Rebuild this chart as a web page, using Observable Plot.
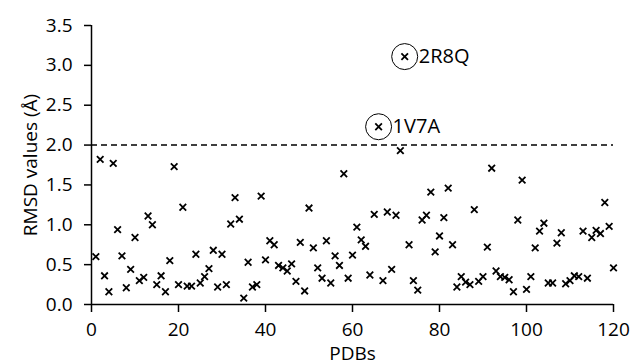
<!DOCTYPE html>
<html><head><meta charset="utf-8">
<script src="https://cdn.jsdelivr.net/npm/d3@7"></script>
<script src="https://cdn.jsdelivr.net/npm/@observablehq/plot@0.6"></script>
<style>body{margin:0;background:#fff} svg{display:block}</style>
</head><body><div id="chart"></div>
<script>
const rmsd = [
  0.60, 1.82, 0.36, 0.16, 1.77, 0.94, 0.61, 0.21, 0.44, 0.84,
  0.30, 0.34, 1.11, 1.00, 0.25, 0.36, 0.16, 0.55, 1.73, 0.25,
  1.22, 0.23, 0.23, 0.63, 0.27, 0.35, 0.45, 0.68, 0.22, 0.63,
  0.25, 1.01, 1.34, 1.07, 0.08, 0.53, 0.22, 0.25, 1.36, 0.56,
  0.80, 0.75, 0.49, 0.46, 0.42, 0.51, 0.29, 0.78, 0.17, 1.21,
  0.71, 0.46, 0.33, 0.80, 0.27, 0.61, 0.49, 1.64, 0.33, 0.62,
  0.97, 0.81, 0.73, 0.37, 1.13, 2.23, 0.30, 1.16, 0.44, 1.12,
  1.93, 3.11, 0.75, 0.30, 0.18, 1.06, 1.12, 1.41, 0.66, 0.86,
  1.09, 1.46, 0.75, 0.22, 0.35, 0.28, 0.25, 1.19, 0.29, 0.35,
  0.72, 1.71, 0.42, 0.35, 0.34, 0.31, 0.16, 1.06, 1.56, 0.19,
  0.35, 0.71, 0.92, 1.02, 0.27, 0.27, 0.77, 0.90, 0.26, 0.30,
  0.36, 0.35, 0.92, 0.33, 0.84, 0.93, 0.89, 1.28, 0.98, 0.46
];
const pdbIndex = d3.range(1, rmsd.length + 1);
const xTicks = [0, 20, 40, 60, 80, 100, 120];
const yTicks = [0, 0.5, 1.0, 1.5, 2.0, 2.5, 3.0, 3.5];
const threshold = [2.0];
const outlierIndex = [72, 66];
const outlierNames = ["2R8Q", "1V7A"];

const data = pdbIndex.map((p, i) => ({pdb: p, rmsd: rmsd[i]}));
const outliers = outlierIndex.map((p, k) => ({pdb: p, rmsd: rmsd[p - 1], name: outlierNames[k]}));

const chart = Plot.plot({
  width: 630, height: 364,
  marginLeft: 91, marginRight: 17, marginTop: 25, marginBottom: 60,
  style: {fontFamily: "'Open Sans', sans-serif", fontSize: "19px", color: "#000", background: "#fff"},
  x: {domain: [0, 120]},
  y: {domain: [0, 3.5]},
  marks: [
    Plot.ruleY(threshold, {stroke: "black", strokeWidth: 1.5, strokeDasharray: "6,4"}),
    Plot.ruleX([0], {y1: 0, y2: 3.5, stroke: "black", strokeWidth: 1.5}),
    Plot.ruleY([0], {stroke: "black", strokeWidth: 1.5}),
    Plot.axisX({ticks: xTicks, tickSize: 8, tickPadding: 10, strokeWidth: 1.5, tickFormat: d => d,
      label: "PDBs", labelAnchor: "center", labelOffset: 55, labelArrow: "none"}),
    Plot.axisY({ticks: yTicks, tickSize: 7, tickPadding: 12, strokeWidth: 1.5, tickFormat: d => d.toFixed(1),
      label: "RMSD values (Å)", labelAnchor: "center", labelOffset: 68, labelArrow: "none"}),
    Plot.dot(data, {x: "pdb", y: "rmsd", symbol: "times", r: 3.1, stroke: "black", strokeWidth: 1.8}),
    Plot.dot(outliers, {x: "pdb", y: "rmsd", r: 13, stroke: "black", strokeWidth: 1}),
    Plot.text(outliers, {x: "pdb", y: "rmsd", text: "name", dx: 14, textAnchor: "start", fontSize: 20})
  ]
});
document.getElementById("chart").appendChild(chart);
</script>
</body></html>
